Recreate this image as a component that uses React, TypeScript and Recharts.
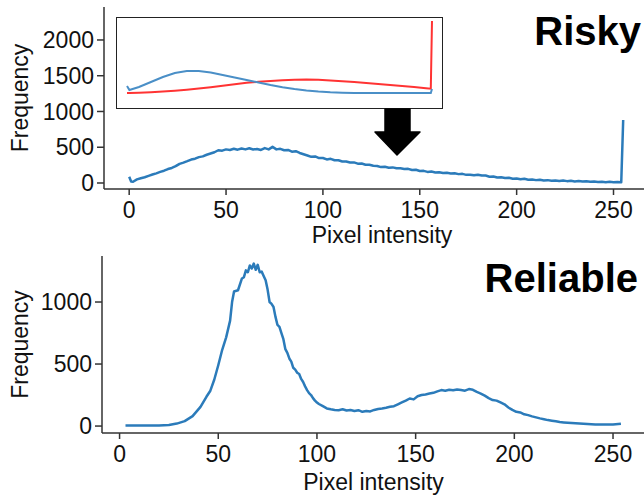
import React from 'react';
import { LineChart, Line, XAxis, YAxis } from 'recharts';

// Risky histogram (pixel intensity -> frequency)
const riskyIntensity = [
  0, 1, 2, 4, 6, 8, 10, 12, 14, 16, 18, 20, 22, 24, 26, 28, 30, 32, 34, 36, 38, 40,
  42, 44, 46, 48, 50, 52, 54, 56, 58, 60, 62, 64, 66, 68, 70, 72, 74, 76, 78, 80,
  82, 84, 86, 88, 90, 92, 94, 96, 98, 100, 102, 104, 106, 108, 110, 112, 114, 116,
  118, 120, 122, 124, 126, 128, 130, 132, 134, 136, 138, 140, 142, 144, 146, 148,
  150, 152, 154, 156, 158, 160, 162, 164, 166, 168, 170, 172, 174, 176, 178, 180,
  182, 184, 186, 188, 190, 192, 194, 196, 198, 200, 202, 204, 206, 208, 210, 212,
  214, 216, 218, 220, 222, 224, 226, 228, 230, 232, 234, 236, 238, 240, 242, 244,
  246, 248, 250, 252, 254, 255,
];
const riskyFrequency = [
  88, 22, 18, 50, 66, 80, 100, 118, 135, 155, 172, 195, 210, 235, 268, 285, 305, 328,
  340, 362, 372, 395, 412, 430, 458, 452, 470, 462, 478, 466, 482, 470, 485, 468,
  476, 462, 488, 470, 505, 470, 478, 458, 462, 438, 445, 420, 402, 385, 366, 372,
  348, 350, 330, 338, 318, 318, 300, 300, 286, 288, 270, 272, 256, 254, 240, 238,
  222, 226, 214, 218, 206, 205, 195, 198, 182, 185, 168, 170, 155, 160, 148, 150,
  140, 142, 134, 136, 124, 128, 114, 116, 108, 116, 104, 104, 88, 90, 76, 80, 70,
  72, 60, 62, 52, 58, 46, 50, 40, 46, 36, 40, 32, 36, 28, 34, 26, 30, 22, 28, 20,
  24, 18, 20, 14, 18, 12, 16, 12, 14, 12, 880,
];

// Reliable histogram
const reliableIntensity = [
  3, 10, 20, 25, 29, 33, 37, 41, 44, 46, 48, 50, 52, 54, 56, 57, 58, 60, 62, 63, 64,
  65, 66, 67, 68, 69, 70, 71, 72, 73, 74, 75, 76, 77, 78, 79, 80, 81, 82, 83, 84, 85,
  86, 87, 88, 89, 90, 91, 92, 93, 94, 95, 96, 97, 98, 99, 100, 101, 103, 105, 107,
  109, 111, 113, 115, 117, 119, 121, 123, 125, 127, 129, 131, 133, 135, 137, 139,
  141, 143, 145, 147, 149, 151, 153, 155, 157, 159, 161, 163, 165, 167, 169, 171,
  173, 175, 177, 179, 181, 183, 185, 187, 189, 191, 193, 195, 197, 199, 201, 203,
  205, 207, 209, 211, 213, 215, 217, 219, 221, 223, 225, 229, 233, 237, 241, 245,
  250, 254,
];
const reliableFrequency = [
  5, 5, 5, 8, 20, 40, 80, 155, 236, 285, 375, 490, 615, 715, 850, 1000, 1085, 1095,
  1190, 1200, 1255, 1240, 1295, 1270, 1310, 1260, 1300, 1240, 1245, 1210, 1175, 1100,
  1000, 985, 960, 880, 815, 800, 750, 700, 620, 590, 545, 520, 470, 455, 430, 420,
  380, 355, 320, 290, 265, 250, 225, 205, 190, 178, 160, 142, 135, 130, 128, 135,
  125, 130, 122, 128, 115, 122, 118, 130, 138, 142, 148, 155, 160, 175, 190, 205,
  222, 215, 240, 250, 255, 262, 268, 280, 290, 285, 292, 288, 295, 290, 285, 298,
  292, 275, 262, 245, 225, 210, 205, 190, 175, 150, 130, 115, 110, 95, 88, 78, 70,
  62, 55, 48, 43, 38, 32, 29, 24, 20, 16, 13, 12, 12, 18,
];

// Inset: two normalised curves (arbitrary units)
const insetIntensity = [
  0, 2, 10, 20, 30, 40, 50, 60, 70, 80, 90, 100, 110, 120, 130, 140, 150, 160, 170,
  180, 190, 200, 210, 220, 230, 240, 250, 254, 255,
];
const insetBlue = [
  23, 19, 22, 27, 32, 36, 38, 38, 36.5, 34, 31.5, 29, 26.5, 24, 21.8, 20, 18.5,
  17.4, 16.7, 16.3, 16, 16, 16, 16, 16, 16, 16, 16, 20,
];
const insetRed = [
  16, 16.1, 16.3, 16.8, 17.4, 18.2, 19.2, 20.4, 21.8, 23.3, 24.8, 26.2, 27.2, 28.1,
  28.8, 29.3, 29.5, 29.2, 28.6, 27.8, 26.9, 26, 25, 24, 23, 22, 20.8, 20.3, 88,
];

const xTicks = [0, 50, 100, 150, 200, 250];
const riskyTicks = [0, 500, 1000, 1500, 2000];
const reliableTicks = [0, 500, 1000];

const riskyData = riskyIntensity.map((v, i) => ({ v, f: riskyFrequency[i] }));
const reliableData = reliableIntensity.map((v, i) => ({ v, f: reliableFrequency[i] }));
const insetData = insetIntensity.map((v, i) => ({ v, blue: insetBlue[i], red: insetRed[i] }));

const FONT = '"Liberation Sans", Arial, sans-serif';
const AXIS = '#333';
const BLUE = '#2b7bba';
const tickStyle = { fill: '#111', fontSize: 23, fontFamily: FONT };
const labelStyle = { fill: '#111', fontSize: 23, fontFamily: FONT, textAnchor: 'middle' as const };

const Panel = ({ data, width, height, top, yw, xh, xDomain, yDomain, yTicks, xLabelOffset }: any) => (
  <LineChart width={width} height={height} data={data} margin={{ top, right: 0, bottom: 0, left: 0 }}>
    <XAxis
      dataKey="v"
      type="number"
      domain={xDomain}
      ticks={xTicks}
      allowDataOverflow
      height={xh}
      tick={tickStyle}
      tickSize={6}
      tickMargin={7}
      axisLine={{ stroke: AXIS, strokeWidth: 1.5 }}
      tickLine={{ stroke: AXIS, strokeWidth: 1.5 }}
      label={{ value: 'Pixel intensity', position: 'insideBottom', offset: xLabelOffset, style: labelStyle }}
    />
    <XAxis
      xAxisId="top"
      dataKey="v"
      type="number"
      domain={xDomain}
      orientation="top"
      height={0}
      tick={false}
      tickLine={false}
      axisLine={{ stroke: AXIS, strokeWidth: 1.5 }}
    />
    <YAxis
      type="number"
      domain={yDomain}
      ticks={yTicks}
      allowDataOverflow
      width={yw}
      tick={tickStyle}
      tickSize={7}
      tickMargin={3}
      axisLine={{ stroke: AXIS, strokeWidth: 1.5 }}
      tickLine={{ stroke: AXIS, strokeWidth: 1.5 }}
      label={{ value: 'Frequency', angle: -90, position: 'insideLeft', offset: 20, style: labelStyle }}
    />
    <Line
      dataKey="f"
      type="linear"
      stroke={BLUE}
      strokeWidth={2.5}
      dot={false}
      strokeLinejoin="round"
      isAnimationActive={false}
    />
  </LineChart>
);

export default function App() {
  return (
    <div style={{ position: 'fixed', left: 0, top: 0, width: 644, height: 496, overflow: 'hidden', background: '#fff' }}>
      <div style={{ position: 'absolute', left: 0, top: 0 }}>
        <Panel
          data={riskyData}
          width={660}
          height={250}
          top={7}
          yw={104}
          xh={61}
          xDomain={[-13, 274]}
          yDomain={[-84, 2461]}
          yTicks={riskyTicks}
          xLabelOffset={7}
        />
      </div>
      <div style={{ position: 'absolute', left: 0, top: 250 }}>
        <Panel
          data={reliableData}
          width={645}
          height={246}
          top={6}
          yw={102}
          xh={63}
          xDomain={[-8.9, 266.2]}
          yDomain={[-56, 1371]}
          yTicks={reliableTicks}
          xLabelOffset={6.5}
        />
      </div>

      {/* inset */}
      <div style={{ position: 'absolute', left: 116, top: 17, background: '#fff' }}>
        <LineChart width={327} height={92} data={insetData} margin={{ top: 0, right: 0, bottom: 0, left: 0 }}>
          <XAxis dataKey="v" type="number" domain={[-9.2, 264.2]} hide />
          <YAxis type="number" domain={[0, 92]} hide />
          <Line dataKey="red" type="linear" stroke="#ff3333" strokeWidth={2} dot={false} isAnimationActive={false} />
          <Line dataKey="blue" type="linear" stroke="#4a8fc7" strokeWidth={2} dot={false} isAnimationActive={false} />
        </LineChart>
      </div>
      <div
        style={{
          position: 'absolute',
          left: 116,
          top: 17,
          width: 327,
          height: 92,
          border: '1.5px solid #222',
          boxSizing: 'border-box',
          pointerEvents: 'none',
        }}
      />

      <svg width={644} height={496} style={{ position: 'absolute', left: 0, top: 0, pointerEvents: 'none' }}>
        <polygon points="385,109 410,109 410,132 420,132 397,155 375,132 385,132" fill="#000" strokeLinejoin="round" stroke="#000" strokeWidth={1.5} />
        <text x={641} y={45} textAnchor="end" fontFamily={FONT} fontWeight="bold" fontSize={40} fill="#000">
          Risky
        </text>
        <text x={638} y={292} textAnchor="end" fontFamily={FONT} fontWeight="bold" fontSize={40} fill="#000">
          Reliable
        </text>
      </svg>
    </div>
  );
}
